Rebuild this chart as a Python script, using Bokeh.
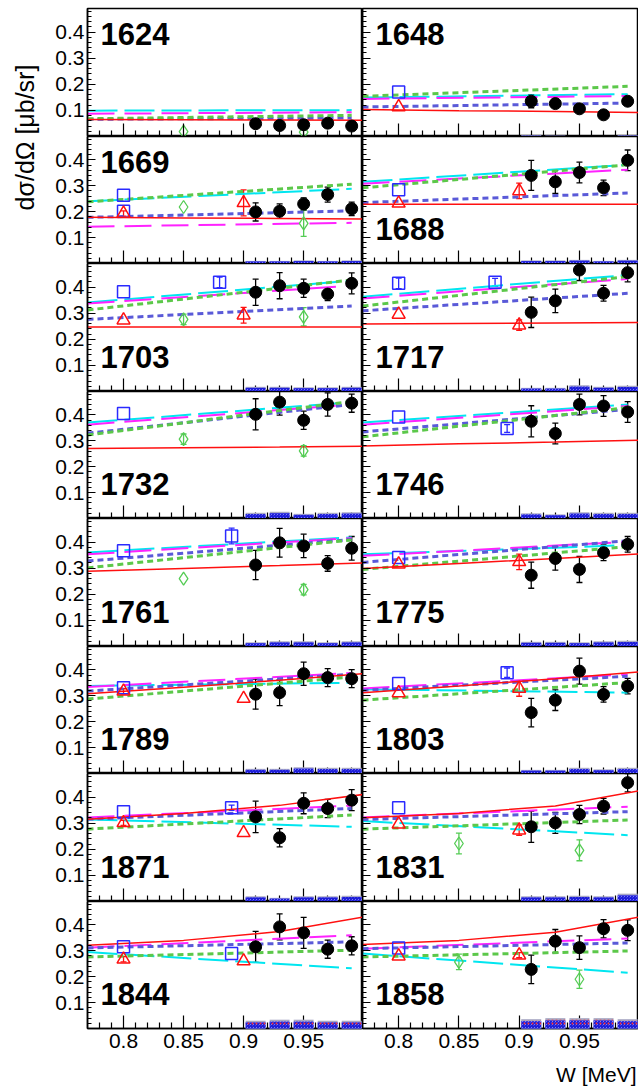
import math
import numpy as np
from bokeh.plotting import figure
from bokeh.layouts import row, column
from bokeh.models import (ColumnDataSource, FixedTicker, Label, Whisker, TeeHead, Range1d,
                          CustomLabelingPolicy)
from bokeh.embed import file_html
from bokeh.resources import INLINE

# ---------------- data ----------------
ENERGY = ["1624", "1648", "1669", "1688", "1703", "1717", "1732", "1746",
          "1761", "1775", "1789", "1803", "1871", "1831", "1844", "1858"]

W_DATA = [0.91, 0.93, 0.95, 0.97, 0.99]
BLACK_Y = [
    [0.049, 0.042, 0.045, 0.051, 0.040],
    [0.135, 0.126, 0.106, 0.083, 0.135],
    [0.199, 0.202, 0.230, 0.266, 0.211],
    [0.340, 0.315, 0.351, 0.292, 0.398],
    [0.380, 0.405, 0.395, 0.373, 0.414],
    [0.303, 0.347, 0.465, 0.376, 0.455],
    [0.402, 0.449, 0.379, 0.440, 0.445],
    [0.375, 0.328, 0.440, 0.434, 0.411],
    [0.312, 0.397, 0.385, 0.318, 0.376],
    [0.273, 0.337, 0.295, 0.359, 0.391],
    [0.306, 0.312, 0.385, 0.370, 0.366],
    [0.235, 0.283, 0.395, 0.305, 0.337],
    [0.324, 0.244, 0.376, 0.356, 0.388],
    [0.286, 0.301, 0.333, 0.365, 0.455],
    [0.315, 0.392, 0.369, 0.306, 0.319],
    [0.228, 0.337, 0.312, 0.385, 0.379],
]
BLACK_ERR = [
    [0.008, 0.006, 0.008, 0.008, 0.006],
    [0.025, 0.012, 0.010, 0.008, 0.012],
    [0.035, 0.028, 0.023, 0.029, 0.026],
    [0.058, 0.045, 0.040, 0.030, 0.040],
    [0.050, 0.050, 0.035, 0.025, 0.040],
    [0.058, 0.045, 0.040, 0.030, 0.035],
    [0.060, 0.050, 0.035, 0.045, 0.035],
    [0.060, 0.040, 0.040, 0.040, 0.040],
    [0.056, 0.055, 0.045, 0.030, 0.045],
    [0.050, 0.045, 0.050, 0.030, 0.030],
    [0.058, 0.050, 0.045, 0.035, 0.035],
    [0.055, 0.040, 0.050, 0.030, 0.030],
    [0.060, 0.035, 0.040, 0.035, 0.040],
    [0.060, 0.040, 0.035, 0.030, 0.035],
    [0.060, 0.050, 0.060, 0.035, 0.035],
    [0.055, 0.045, 0.045, 0.035, 0.040],
]
SYS_H = [
    [0.000, 0.000, 0.000, 0.000, 0.000],
    [0.004, 0.003, 0.002, 0.002, 0.004],
    [0.010, 0.010, 0.012, 0.010, 0.012],
    [0.012, 0.012, 0.014, 0.010, 0.014],
    [0.018, 0.018, 0.016, 0.016, 0.018],
    [0.014, 0.014, 0.024, 0.018, 0.022],
    [0.022, 0.026, 0.018, 0.022, 0.024],
    [0.020, 0.016, 0.024, 0.022, 0.022],
    [0.016, 0.020, 0.020, 0.016, 0.020],
    [0.018, 0.018, 0.016, 0.020, 0.022],
    [0.018, 0.018, 0.024, 0.022, 0.022],
    [0.014, 0.014, 0.022, 0.016, 0.022],
    [0.020, 0.014, 0.020, 0.020, 0.022],
    [0.020, 0.020, 0.022, 0.020, 0.030],
    [0.030, 0.034, 0.034, 0.030, 0.030],
    [0.036, 0.040, 0.040, 0.040, 0.036],
]
SYS_RED = ["1844", "1858"]

SQ_W = [[], [0.8], [0.8, 0.8], [0.8], [0.8, 0.88], [0.8, 0.88], [0.8], [0.8, 0.89],
        [0.8, 0.89], [0.8], [0.8], [0.8, 0.89], [0.8, 0.89], [0.8], [0.8, 0.89], [0.8]]
SQ_Y = [[], [0.170], [0.263, 0.202], [0.285], [0.382, 0.418], [0.414, 0.418], [0.405], [0.392, 0.347],
        [0.367, 0.423], [0.341], [0.331], [0.347, 0.389], [0.344, 0.359], [0.359], [0.315, 0.289], [0.311]]
SQ_ERR = [[], [0], [0, 0], [0], [0, 0.02], [0.02, 0.015], [0], [0, 0.015],
          [0, 0.03], [0], [0], [0, 0.018], [0, 0.01], [0], [0, 0], [0]]

TRI_W = [[], [0.8], [0.8, 0.9], [0.8, 0.9], [0.8, 0.9], [0.8, 0.9], [], [],
         [], [0.8, 0.9], [0.8, 0.9], [0.8, 0.9], [0.8, 0.9], [0.8, 0.9], [0.8, 0.9], [0.8, 0.9]]
TRI_Y = [[], [0.113], [0.193, 0.234], [0.232, 0.280], [0.273, 0.292], [0.295, 0.254], [], [],
         [], [0.315, 0.324], [0.317, 0.289], [0.311, 0.328], [0.301, 0.263], [0.296, 0.273],
         [0.267, 0.260], [0.279, 0.283]]
TRI_ERR = [[], [0], [0.01, 0.05], [0, 0.03], [0, 0.03], [0, 0.02], [], [],
           [], [0, 0.03], [0.01, 0], [0, 0.03], [0.01, 0], [0, 0.02], [0.01, 0], [0, 0.01]]

DIA_W = [[0.85, 0.95], [], [0.85, 0.95], [], [0.85, 0.95], [], [0.85, 0.95], [],
         [0.85, 0.95], [], [], [], [], [0.85, 0.95], [], [0.85, 0.95]]
DIA_Y = [[0.019, 0.017], [], [0.218, 0.155], [], [0.276, 0.286], [], [0.306, 0.261], [],
         [0.260, 0.218], [], [], [], [], [0.222, 0.196], [], [0.257, 0.190]]
DIA_ERR = [[0, 0.02], [], [0, 0.05], [], [0.02, 0.035], [], [0.02, 0.02], [],
           [0, 0.02], [], [], [], [], [0.04, 0.04], [], [0.03, 0.035]]

CURVE_W = [0.77, 0.99]
CYAN_Y = [[0.099, 0.101], [0.149, 0.162], [0.240, 0.288], [0.315, 0.381],
          [0.341, 0.424], [0.363, 0.446], [0.370, 0.449], [0.370, 0.440],
          [0.360, 0.418], [0.353, 0.388], [0.338, 0.350], [0.325, 0.312],
          [0.314, 0.286], [0.308, 0.254], [0.295, 0.232], [0.289, 0.215]]
MAGENTA_Y = [[0.087, 0.093], [0.144, 0.155], [0.142, 0.157], [0.308, 0.362],
             [0.337, 0.405], [0.356, 0.431], [0.362, 0.440], [0.362, 0.434],
             [0.353, 0.415], [0.347, 0.401], [0.334, 0.388], [0.328, 0.382],
             [0.322, 0.367], [0.322, 0.363], [0.312, 0.360], [0.308, 0.347]]
GREEN_Y = [[0.068, 0.081], [0.154, 0.192], [0.238, 0.306], [0.292, 0.381],
           [0.312, 0.427], [0.327, 0.440], [0.322, 0.452], [0.315, 0.428],
           [0.301, 0.408], [0.295, 0.382], [0.287, 0.372], [0.283, 0.351],
           [0.277, 0.331], [0.277, 0.312], [0.276, 0.302], [0.276, 0.299]]
BLUE_Y = [[0.066, 0.071], [0.113, 0.128], [0.178, 0.203], [0.235, 0.272],
          [0.276, 0.327], [0.309, 0.376], [0.329, 0.440], [0.334, 0.421],
          [0.327, 0.410], [0.322, 0.405], [0.318, 0.383], [0.321, 0.375],
          [0.315, 0.356], [0.314, 0.344], [0.311, 0.334], [0.308, 0.330]]
RED_W = [0.77, 0.85, 0.93, 1.0]
RED_Y = [[0.065, 0.064, 0.063, 0.062], [0.103, 0.099, 0.096, 0.092],
         [0.178, 0.176, 0.174, 0.172], [0.229, 0.229, 0.229, 0.229],
         [0.247, 0.247, 0.247, 0.247], [0.258, 0.260, 0.262, 0.264],
         [0.270, 0.273, 0.276, 0.279], [0.280, 0.288, 0.295, 0.302],
         [0.288, 0.299, 0.310, 0.320], [0.299, 0.318, 0.337, 0.354],
         [0.308, 0.333, 0.360, 0.385], [0.312, 0.338, 0.366, 0.392],
         [0.315, 0.337, 0.368, 0.410], [0.321, 0.337, 0.366, 0.424],
         [0.321, 0.340, 0.374, 0.430], [0.324, 0.340, 0.371, 0.430]]

X_MAJOR = [0.8, 0.85, 0.9, 0.95]
X_LABELS = ["0.8", "0.85", "0.9", "0.95"]
X_MINOR = [0.78, 0.79, 0.81, 0.82, 0.83, 0.84, 0.86, 0.87, 0.88, 0.89,
           0.91, 0.92, 0.93, 0.94, 0.96, 0.97, 0.98, 0.99]
Y_MAJOR = [0.1, 0.2, 0.3, 0.4]
Y_LABELS = ["0.1", "0.2", "0.3", "0.4"]
Y_MINOR = [0.02, 0.04, 0.06, 0.08, 0.12, 0.14, 0.16, 0.18, 0.22, 0.24, 0.26, 0.28,
           0.32, 0.34, 0.36, 0.38, 0.42, 0.44, 0.46, 0.48]

TOP_LABELS = ["1624", "1648", "1669"]
Y_TITLE = "dσ/dΩ [μb/sr]"
X_TITLE = "W [MeV]"

# ---------------- layout constants ----------------
FONT = "Liberation Sans"
TITLE_W = 42
LEFT_BORDER = 45
FRAME_W = [275, 276]
FRAME_H = [128, 127, 128, 127, 128, 127, 128, 127]
TOP_BORDER = 8
BOTTOM_BORDER = 35
FOOTER_H = 25

C_CYAN = "#00e6f0"
C_MAG = "#ff22ff"
C_GREEN = "#5cc84a"
C_BLUE = "#5a5ad8"
C_RED = "#ff1010"
C_SQ = "#2a2aff"
C_DIA = "#55cc55"

NO_LABELS = CustomLabelingPolicy(code="return new Set()")


def errbars(p, xs, ys, es, color, head):
    xs2 = [x for x, e in zip(xs, es) if e > 0]
    lo = [y - e for y, e in zip(ys, es) if e > 0]
    hi = [y + e for y, e in zip(ys, es) if e > 0]
    if not xs2:
        return
    src = ColumnDataSource(dict(x=xs2, lo=lo, hi=hi))
    w = Whisker(base="x", lower="lo", upper="hi", source=src, line_color=color, line_width=1.3,
                upper_head=TeeHead(size=head, line_color=color, line_width=1.3),
                lower_head=TeeHead(size=head, line_color=color, line_width=1.3))
    p.add_layout(w)


def make_panel(i):
    r, c = divmod(i, 2)
    fh = FRAME_H[r]
    p = figure(frame_width=FRAME_W[c], frame_height=fh,
               x_range=Range1d(0.77, 0.999), y_range=Range1d(0.0, 0.49),
               output_backend="svg", toolbar_location=None,
               min_border_left=LEFT_BORDER if c == 0 else 0, min_border_right=0,
               min_border_top=TOP_BORDER if r == 0 else 0,
               min_border_bottom=BOTTOM_BORDER if r == 7 else 0)
    p.grid.visible = False
    p.outline_line_color = "black"
    p.outline_line_width = 1.5
    p.background_fill_color = "white"
    p.border_fill_color = "white"

    xa = p.xaxis[0]
    xa.ticker = FixedTicker(ticks=X_MAJOR, minor_ticks=X_MINOR)
    xa.major_label_overrides = dict(zip(X_MAJOR, X_LABELS))
    xa.major_tick_in = 13
    xa.major_tick_out = 0
    xa.minor_tick_in = 6
    xa.minor_tick_out = 0
    xa.axis_line_width = 1.5
    xa.major_tick_line_width = 1.2
    xa.minor_tick_line_width = 1.2
    if r == 7:
        xa.major_label_text_font = FONT
        xa.major_label_text_font_size = "21px"
        xa.major_label_text_color = "black"
        xa.major_label_standoff = 5
    else:
        xa.major_label_text_font_size = "0px"
        xa.major_label_standoff = 0
        xa.major_label_policy = NO_LABELS

    ya = p.yaxis[0]
    ya.ticker = FixedTicker(ticks=Y_MAJOR, minor_ticks=Y_MINOR)
    ya.major_label_overrides = dict(zip(Y_MAJOR, Y_LABELS))
    ya.major_tick_in = 8
    ya.major_tick_out = 0
    ya.minor_tick_in = 4
    ya.minor_tick_out = 0
    ya.axis_line_width = 1.5
    ya.major_tick_line_width = 1.2
    ya.minor_tick_line_width = 1.2
    if c == 0:
        ya.major_label_text_font = FONT
        ya.major_label_text_font_size = "21px"
        ya.major_label_text_color = "black"
        ya.major_label_standoff = 3
    else:
        ya.major_label_text_font_size = "0px"
        ya.major_label_standoff = 0
        ya.major_label_policy = NO_LABELS

    # systematic error bars at the bottom
    w = np.array(W_DATA)
    h = np.array(SYS_H[i])
    if h.max() > 0:
        p.quad(left=w - 0.0083, right=w + 0.0083, bottom=0, top=h,
               fill_color="#a8a8c4", line_color=None, level="overlay")
        p.quad(left=w - 0.0083, right=w + 0.0083, bottom=0, top=h * 0.78,
               fill_color="#8c8cff", line_color=None,
               hatch_pattern="criss_cross", hatch_color="#1e1ed8", hatch_scale=3,
               hatch_weight=1.3, level="overlay")
        if ENERGY[i] in SYS_RED:
            p.quad(left=w - 0.0083, right=w + 0.0083, bottom=h * 0.3, top=h * 0.85,
                   fill_alpha=0, line_color=None,
                   hatch_pattern="dot", hatch_color="#ff3030", hatch_scale=4,
                   hatch_weight=1.5, level="overlay")

    # model curves
    p.line(CURVE_W, CYAN_Y[i], line_color=C_CYAN, line_width=2, line_dash="30 7")
    p.line(CURVE_W, MAGENTA_Y[i], line_color=C_MAG, line_width=2, line_dash="27 10")
    p.line(CURVE_W, BLUE_Y[i], line_color=C_BLUE, line_width=3, line_dash="6 4")
    p.line(CURVE_W, GREEN_Y[i], line_color=C_GREEN, line_width=3, line_dash="6 4")
    p.line(RED_W, RED_Y[i], line_color=C_RED, line_width=1.5)

    # other data sets
    errbars(p, SQ_W[i], SQ_Y[i], SQ_ERR[i], C_SQ, 6)
    if SQ_W[i]:
        p.scatter(SQ_W[i], SQ_Y[i], marker="square", size=12, fill_color=None,
                  line_color=C_SQ, line_width=1.5)
    errbars(p, TRI_W[i], TRI_Y[i], TRI_ERR[i], C_RED, 6)
    if TRI_W[i]:
        p.scatter(TRI_W[i], TRI_Y[i], marker="triangle", size=13, fill_color=None,
                  line_color=C_RED, line_width=1.5)
    errbars(p, DIA_W[i], DIA_Y[i], DIA_ERR[i], C_DIA, 6)
    if DIA_W[i]:
        p.scatter(DIA_W[i], DIA_Y[i], marker="diamond", size=13, fill_color=None,
                  line_color=C_DIA, line_width=1.3)

    errbars(p, W_DATA, BLACK_Y[i], BLACK_ERR[i], "black", 6)
    p.scatter(W_DATA, BLACK_Y[i], marker="circle", size=12, fill_color="black",
              line_color="black")

    ly = fh - 25 if ENERGY[i] in TOP_LABELS else 35
    p.add_layout(Label(x=13, y=ly, x_units="screen", y_units="screen", text=ENERGY[i],
                       text_font=FONT, text_font_style="bold", text_font_size="31px",
                       text_color="black", text_baseline="middle"))
    return p


panels = [make_panel(i) for i in range(16)]
rows = [row(panels[2 * k], panels[2 * k + 1], spacing=0) for k in range(8)]

grid_w = LEFT_BORDER + FRAME_W[0] + FRAME_W[1]
footer = figure(frame_width=grid_w, frame_height=FOOTER_H, x_range=Range1d(0, 1), y_range=Range1d(0, 1),
                output_backend="svg", toolbar_location=None, min_border=0,
                x_axis_location=None, y_axis_location=None)
footer.grid.visible = False
footer.outline_line_color = None
footer.add_layout(Label(x=grid_w - 2, y=14, x_units="screen", y_units="screen", text=X_TITLE,
                        text_font=FONT, text_font_size="21px", text_align="right",
                        text_baseline="middle", text_color="black"))

grid = column(*rows, footer, spacing=0)

total_h = TOP_BORDER + sum(FRAME_H) + BOTTOM_BORDER + FOOTER_H
tf = figure(frame_width=TITLE_W, frame_height=total_h, x_range=Range1d(0, 1), y_range=Range1d(0, 1),
            output_backend="svg", toolbar_location=None, min_border=0,
            x_axis_location=None, y_axis_location=None)
tf.grid.visible = False
tf.outline_line_color = None
tf.add_layout(Label(x=24, y=total_h - 137, x_units="screen", y_units="screen",
                    text=Y_TITLE, angle=math.pi / 2, text_align="center",
                    text_baseline="middle", text_font=FONT, text_font_size="25px",
                    text_color="black"))

page = row(tf, grid, spacing=0)
open("out.html", "w").write(file_html(page, INLINE))
